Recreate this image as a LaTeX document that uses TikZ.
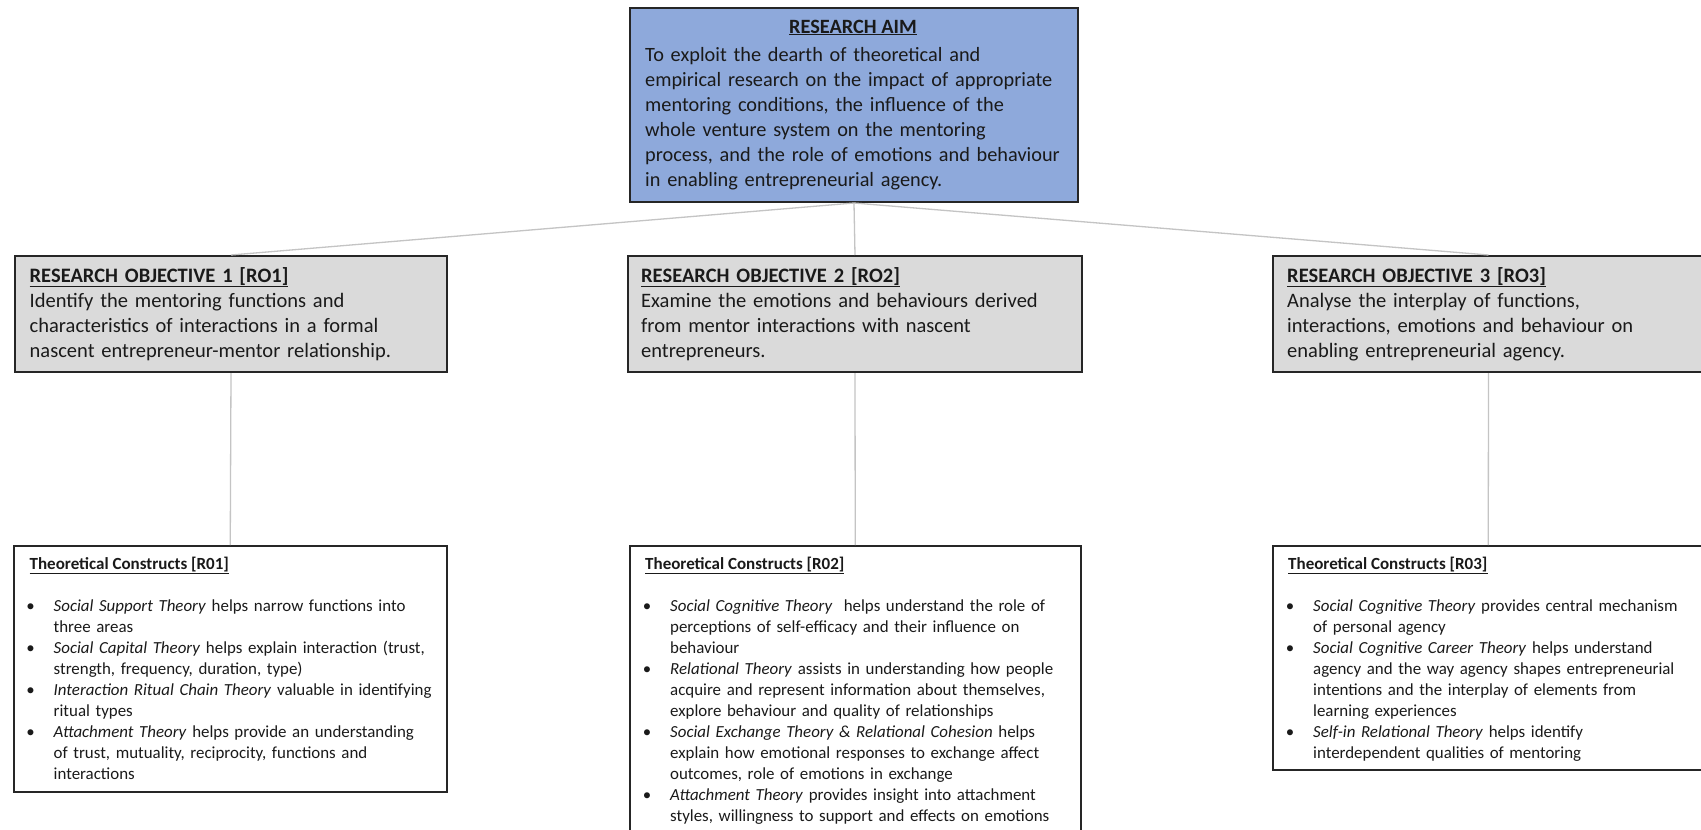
\documentclass[tikz,border=0pt]{standalone}
\usepackage{fontspec}
\setmainfont{Carlito}
\setlength{\parindent}{0pt}
\definecolor{aimblue}{HTML}{8EA9DB}
\definecolor{rogray}{HTML}{DADADA}
\definecolor{linegray}{HTML}{C4C4C4}
\definecolor{edgecol}{HTML}{262626}
\definecolor{txtcol}{HTML}{1A1A1A}
\newcommand{\fstrut}[1]{\rule{0pt}{#1}}
\newcommand{\bul}{\leavevmode\llap{\textbullet\hspace{19pt}}}
\tikzset{
  aimbox/.style={draw=edgecol, line width=2pt, fill=aimblue, anchor=north west, inner sep=0pt},
  robox/.style={draw=edgecol, line width=2pt, fill=rogray, anchor=north west, inner sep=0pt},
  tcbox/.style={draw=edgecol, line width=1.5pt, fill=white, anchor=north west, inner sep=0pt},
  link/.style={draw=linegray, line width=1.3pt},
  bigtxt/.style={inner sep=0pt, align=left, text width=520pt, anchor=north west, text=txtcol,
    font=\fontsize{20.5}{25}\selectfont},
  aimtxt/.style={bigtxt, font=\fontsize{20.3}{25}\selectfont},
  ttltxt/.style={inner sep=0pt, anchor=base, text=txtcol, font=\fontsize{20.3}{24}\selectfont\bfseries},
  tchead/.style={inner sep=0pt, anchor=base west, text=txtcol, font=\fontsize{17}{20}\selectfont\bfseries},
  tctxt/.style={inner sep=0pt, align=left, text width=520pt, anchor=north west, text=txtcol,
    font=\fontsize{16.9}{21}\selectfont},
}
\begin{document}
\begin{tikzpicture}[x=1pt,y=-1pt]
\useasboundingbox (0,0) rectangle (1701,830);
\clip (0,0) rectangle (1701,830);
\fill[white] (0,0) rectangle (1701,830);

% boxes
\node[aimbox, minimum width=448, minimum height=194] (aim) at (629,7) {};
\node[robox, minimum width=432, minimum height=116] (ro1) at (14,255) {};
\node[robox, minimum width=454, minimum height=116] (ro2) at (627,255) {};
\node[robox, minimum width=431, minimum height=116] (ro3) at (1272,255) {};
\node[tcbox, minimum width=433, minimum height=246] (tc1) at (13,545) {};
\node[tcbox, minimum width=451, minimum height=300] (tc2) at (629,545) {};
\node[tcbox, minimum width=431, minimum height=224] (tc3) at (1272,545) {};

% connectors
\draw[link] (aim.south) -- (ro1.north);
\draw[link] (aim.south) -- (ro2.north);
\draw[link] (aim.south) -- (ro3.north);
\draw[link] (ro1.south) -- (tc1.north);
\draw[link] (ro2.south) -- (tc2.north);
\draw[link] (ro3.south) -- (tc3.north);

% aim text
\node[ttltxt] (aimtitle) at (853,33) {\underline{RESEARCH AIM}};
\node[aimtxt] (aimbody) at (645,41) {\fstrut{20pt}To exploit the dearth of theoretical and\\
empirical research on the impact of appropriate\\
mentoring conditions, the influence of the\\
whole venture system on the mentoring\\
process, and the role of emotions and behaviour\\
in enabling entrepreneurial agency.};

% research objectives
\node[bigtxt] (ro1txt) at (29.5,262) {\fstrut{20pt}\underline{\textbf{RESEARCH OBJECTIVE 1 [RO1]}}\\
Identify the mentoring functions and\\
characteristics of interactions in a formal\\
nascent entrepreneur-mentor relationship.};
\node[bigtxt] (ro2txt) at (641,262) {\fstrut{20pt}\underline{\textbf{RESEARCH OBJECTIVE 2 [RO2]}}\\
Examine the emotions and behaviours derived\\
from mentor interactions with nascent\\
entrepreneurs.};
\node[bigtxt] (ro3txt) at (1287,262) {\fstrut{20pt}\underline{\textbf{RESEARCH OBJECTIVE 3 [RO3]}}\\
Analyse the interplay of functions,\\
interactions, emotions and behaviour on\\
enabling entrepreneurial agency.};

% theoretical constructs
\node[tchead] (tc1head) at (29.5,569) {\underline{Theoretical Constructs [R01]}};
\node[tctxt] (tc1txt) at (53.5,595) {\fstrut{16pt}\bul\textit{Social Support Theory} helps narrow functions into\\
three areas\\
\bul\textit{Social Capital Theory} helps explain interaction (trust,\\
strength, frequency, duration, type)\\
\bul\textit{Interaction Ritual Chain Theory} valuable in identifying\\
ritual types\\
\bul\textit{Attachment Theory} helps provide an understanding\\
of trust, mutuality, reciprocity, functions and\\
interactions};

\node[tchead] (tc2head) at (645,569) {\underline{Theoretical Constructs [R02]}};
\node[tctxt] (tc2txt) at (670,595) {\fstrut{16pt}\bul\textit{Social Cognitive Theory}\ \ helps understand the role of\\
perceptions of self-efficacy and their influence on\\
behaviour\\
\bul\textit{Relational Theory} assists in understanding how people\\
acquire and represent information about themselves,\\
explore behaviour and quality of relationships\\
\bul\textit{Social Exchange Theory \& Relational Cohesion} helps\\
explain how emotional responses to exchange affect\\
outcomes, role of emotions in exchange\\
\bul\textit{Attachment Theory} provides insight into attachment\\
styles, willingness to support and effects on emotions};

\node[tchead] (tc3head) at (1288,569) {\underline{Theoretical Constructs [R03]}};
\node[tctxt] (tc3txt) at (1313,595) {\fstrut{16pt}\bul\textit{Social Cognitive Theory} provides central mechanism\\
of personal agency\\
\bul\textit{Social Cognitive Career Theory} helps understand\\
agency and the way agency shapes entrepreneurial\\
intentions and the interplay of elements from\\
learning experiences\\
\bul\textit{Self-in Relational Theory} helps identify\\
interdependent qualities of mentoring};
\end{tikzpicture}
\end{document}
